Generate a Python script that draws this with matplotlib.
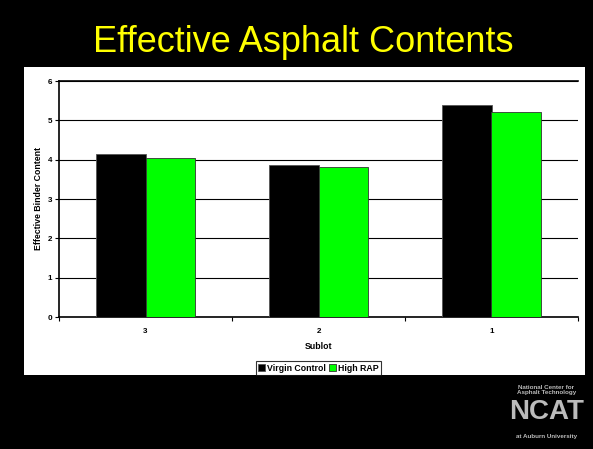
import matplotlib
matplotlib.use('Agg')
import matplotlib.pyplot as plt
import numpy as np

plt.rcParams['font.family'] = ['Liberation Sans', 'DejaVu Sans']

# Data
sublots = ['3', '2', '1']
virgin_control = [4.15, 3.86, 5.40]
high_rap = [4.04, 3.82, 5.20]

fig = plt.figure(figsize=(5.93, 4.49), dpi=100, facecolor='black')

# title of the slide
fig.text(0.511, 0.905, 'Effective Asphalt Contents', color='#FFFF00',
         fontsize=26, ha='center', va='center')

# white chart area
bg = fig.add_axes([24 / 593, 1 - 375 / 449, (585 - 24) / 593, (375 - 67) / 449])
bg.set_facecolor('white')
bg.set_xticks([])
bg.set_yticks([])
for s in bg.spines.values():
    s.set_visible(False)

ax = fig.add_axes([59 / 593, 1 - 317 / 449, (578 - 59) / 593, (317 - 81) / 449])
ax.set_facecolor('white')

x = np.arange(len(sublots))
w = 0.286
ax.bar(x - w / 2, virgin_control, w, color='black', edgecolor='#555555',
       linewidth=0.6, label='Virgin Control', zorder=3)
ax.bar(x + w / 2, high_rap, w, color='#00FF00', edgecolor='#333333',
       linewidth=0.6, label='High RAP', zorder=3)

ax.set_xlim(-0.5, 2.5)
ax.set_ylim(0, 6)
ax.set_yticks(range(0, 7))
ax.yaxis.grid(True, color='black', linewidth=0.8, zorder=0)
ax.set_axisbelow(True)

ax.set_xticks(x)
ax.set_xticklabels(sublots)
ax.set_xticks([-0.5, 0.5, 1.5, 2.5], minor=True)
ax.tick_params(axis='x', which='major', length=0, pad=8)
ax.tick_params(axis='x', which='minor', length=3, width=0.8, direction='out')
ax.tick_params(axis='y', length=3, width=0.8, direction='out', pad=2)
for lab in ax.get_xticklabels() + ax.get_yticklabels():
    lab.set_fontsize(5.8)
    lab.set_fontweight('bold')

ax.spines['right'].set_visible(False)
ax.spines['top'].set_linewidth(1.2)
ax.spines['left'].set_linewidth(1.2)
ax.spines['bottom'].set_linewidth(1.2)

ax.set_xlabel('Sublot', fontsize=6.3, fontweight='bold', labelpad=5)
ax.set_ylabel('Effective Binder Content', fontsize=6.3, fontweight='bold', labelpad=3)

leg = ax.legend(loc='upper center', bbox_to_anchor=(0.5, -0.186), ncol=2,
                prop={'weight': 'bold', 'size': 6.3}, frameon=True,
                fancybox=False, edgecolor='black', handlelength=0.8,
                handleheight=0.8, handletextpad=0.2, columnspacing=0.4,
                borderpad=0.3, borderaxespad=0)
leg.get_frame().set_linewidth(0.8)

# NCAT logo (approximation)
fig.text(0.921, 0.083, 'NCAT', color='#BBBBBB', fontsize=20, fontweight='bold',
         ha='center', va='center')
fig.text(0.921, 0.132, 'National Center for\nAsphalt Technology', color='#BBBBBB',
         fontsize=4.5, fontweight='bold', ha='center', va='center', linespacing=1.0)
fig.text(0.921, 0.027, 'at Auburn University', color='#BBBBBB', fontsize=4.5,
         fontweight='bold', ha='center', va='center')

fig.savefig('out.png', dpi=100, facecolor='black')
